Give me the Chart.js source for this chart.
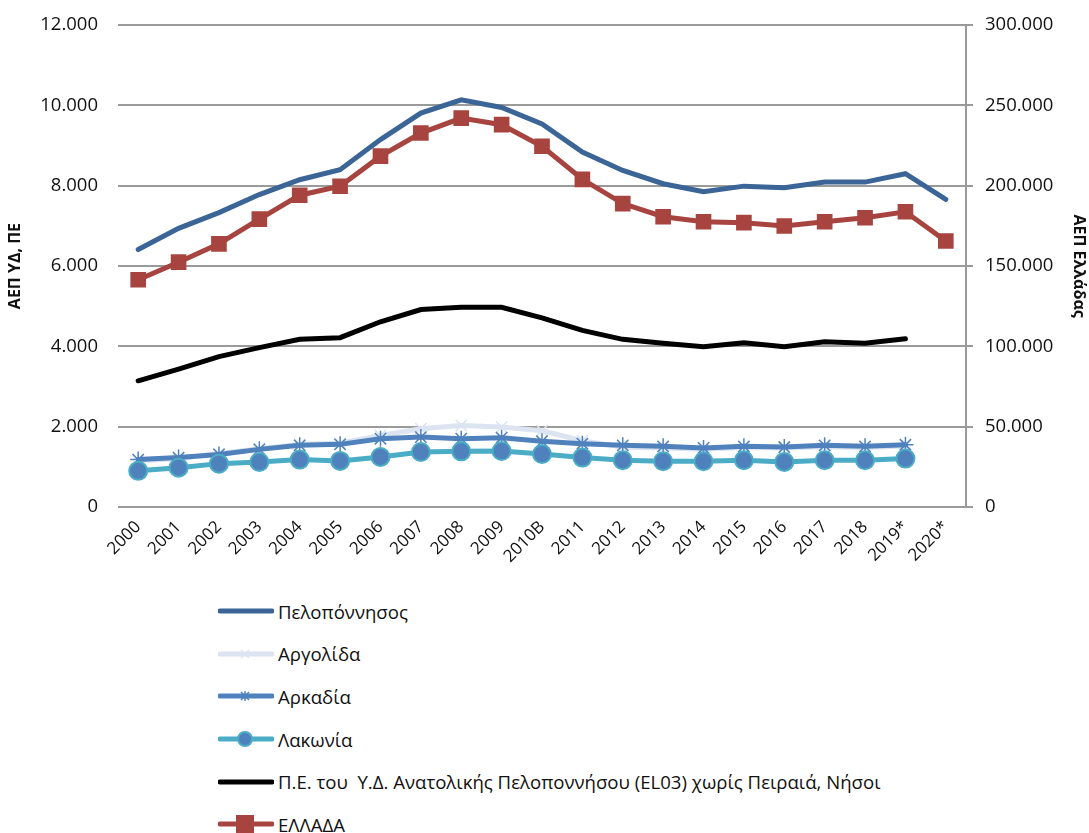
<!DOCTYPE html>
<html>
<head>
<meta charset="utf-8">
<script src="https://cdn.jsdelivr.net/npm/chart.js@4"></script>
<style>
  body { margin: 0; background: #fff; font-family: "Open Sans", sans-serif; overflow: hidden; }
  #wrap { position: relative; width: 1089px; height: 596px; margin-top: -6px; }
  #legends { position: absolute; left: 218px; top: 590px; }
  .legends__item { display: flex; align-items: center; height: 42.6px; font-size: 18.6px; color: #111; white-space: pre; }
  .legends__item svg { margin-right: 4px; }
</style>
</head>
<body>
<div id="wrap"><canvas id="myChart"></canvas></div>
<div id="legends"></div>
<script>
const YEARS = ["2000", "2001", "2002", "2003", "2004", "2005", "2006", "2007", "2008", "2009", "2010B",
  "2011", "2012", "2013", "2014", "2015", "2016", "2017", "2018", "2019*", "2020*"]
const PELOPONNISOS = [6410, 6940, 7330, 7780, 8150, 8400, 9150, 9810, 10140, 9950, 9540,
  8840, 8380, 8050, 7850, 7990, 7950, 8090, 8090, 8300, 7660]
const ARGOLIDA = [1150, 1200, 1330, 1450, 1560, 1590, 1780, 1950, 2030, 1990, 1900,
  1650, 1490, 1470, 1440, 1480, 1470, 1500, 1480, 1520, null]
const ARKADIA = [1180, 1230, 1310, 1435, 1535, 1560, 1700, 1740, 1700, 1725, 1637,
  1576, 1535, 1510, 1470, 1510, 1493, 1535, 1510, 1551, null]
const LAKONIA = [900, 980, 1080, 1120, 1180, 1147, 1246, 1370, 1386, 1394, 1320,
  1230, 1163, 1140, 1140, 1163, 1122, 1163, 1163, 1205, null]
const EL03 = [3143, 3432, 3745, 3968, 4175, 4216, 4612, 4917, 4975, 4975, 4711,
  4397, 4175, 4076, 3993, 4092, 3993, 4117, 4076, 4191, null]
const ELLADA = [141500, 152400, 163800, 179250, 194100, 199700, 218400, 232800, 242100, 238000, 224600,
  204000, 188900, 180700, 177600, 177000, 174900, 177600, 180100, 183800, 165600]

const FONT = "'Open Sans', sans-serif"
const GRID = "#9a9a9a"

const SERIES = [
  { label: "Πελοπόννησος", data: PELOPONNISOS, color: "#3b6597", marker: null, axis: "y" },
  { label: "Αργολίδα", data: ARGOLIDA, color: "#dbe4f0", marker: "crossRot", radius: 8, axis: "y" },
  { label: "Αρκαδία", data: ARKADIA, color: "#4f81bd", marker: "star", radius: 8, axis: "y" },
  { label: "Λακωνία", data: LAKONIA, color: "#4bacc6", fill: "#4f81bd", marker: "circle", radius: 9, axis: "y" },
  { label: "Π.Ε. του  Υ.Δ. Ανατολικής Πελοποννήσου (EL03) χωρίς Πειραιά, Νήσοι", data: EL03, color: "#000000", marker: null, axis: "y" },
  { label: "ΕΛΛΑΔΑ", data: ELLADA, color: "#a8443f", marker: "rect", radius: 10, axis: "y1" },
]

function formatNumber(value) {
  return String(value).replace(/\B(?=(\d{3})+(?!\d))/g, ".")
}

function markerSvg(s) {
  const c = s.color
  let m = ""
  if (s.marker === "rect") m = `<rect x="18" y="2" width="18" height="18" fill="${c}"/>`
  if (s.marker === "circle") m = `<circle cx="27" cy="11" r="7" fill="${s.fill}" stroke="${c}" stroke-width="2"/>`
  if (s.marker === "crossRot") m = `<path d="M23 7 L31 15 M31 7 L23 15" stroke="${c}" stroke-width="1.5"/>`
  if (s.marker === "star") m = `<path d="M23 7 L31 15 M31 7 L23 15 M27 6 L27 16" stroke="${c}" stroke-width="1.5"/>`
  return `<svg width="56" height="22"><line x1="2" y1="11" x2="54" y2="11" stroke="${c}" stroke-width="5" stroke-linecap="round"/>${m}</svg>`
}

;(function populateLegend() {
  const html = SERIES.map((s) => `<div class="legends__item">${markerSvg(s)}${s.label}</div>`).join("")
  document.getElementById("legends").innerHTML = html
})()

const ctx = document.getElementById("myChart").getContext("2d")
const config = {
  type: "line",
  data: {
    labels: YEARS,
    datasets: SERIES.map((s, i) => ({
      label: s.label,
      data: s.data,
      yAxisID: s.axis,
      borderColor: s.color,
      backgroundColor: s.fill || s.color,
      borderWidth: 5,
      pointStyle: s.marker || "circle",
      pointRadius: s.marker ? s.radius : 0,
      pointBorderColor: s.color,
      pointBackgroundColor: s.fill || s.color,
      pointBorderWidth: s.marker === "circle" ? 2 : 1.5,
      borderCapStyle: "round",
      tension: 0,
      fill: false,
      spanGaps: false,
      order: SERIES.length - i,
    })),
  },
  options: {
    responsive: true,
    maintainAspectRatio: false,
    animation: false,
    layout: { padding: { top: 14, left: 0, right: 0, bottom: 0 } },
    plugins: { legend: { display: false }, tooltip: { enabled: false } },
    scales: {
      x: {
        offset: true,
        grid: { display: false },
        border: { display: false },
        ticks: { color: "#111", font: { family: FONT, size: 17 }, maxRotation: 45, minRotation: 45, autoSkip: false, padding: 2 },
        afterFit(scale) { scale.height = 83 },
      },
      y: {
        position: "left",
        min: 0,
        max: 12000,
        ticks: { stepSize: 2000, color: "#111", font: { family: FONT, size: 18.5 }, padding: 20,
          callback: (v) => formatNumber(v) },
        grid: { color: GRID, lineWidth: 2, drawTicks: false },
        border: { display: false },
        title: { display: true, text: "ΑΕΠ ΥΔ, ΠΕ", color: "#111", font: { family: FONT, size: 16, weight: "bold" }, padding: 6 },
        afterFit(scale) { scale.width = 118 },
      },
      y1: {
        position: "right",
        min: 0,
        max: 300000,
        ticks: { stepSize: 50000, color: "#111", font: { family: FONT, size: 18.5 }, padding: 12,
          callback: (v) => formatNumber(v) },
        grid: { drawOnChartArea: false, color: GRID, lineWidth: 2, tickLength: 7 },
        border: { display: true, color: GRID, width: 2 },
        title: { display: true, text: "ΑΕΠ Ελλάδας", color: "#111", font: { family: FONT, size: 16, weight: "bold" }, padding: 1 },
        afterFit(scale) { scale.width = 123 },
      },
    },
  },
}
var myChart = new Chart(ctx, config)
</script>
</body>
</html>
